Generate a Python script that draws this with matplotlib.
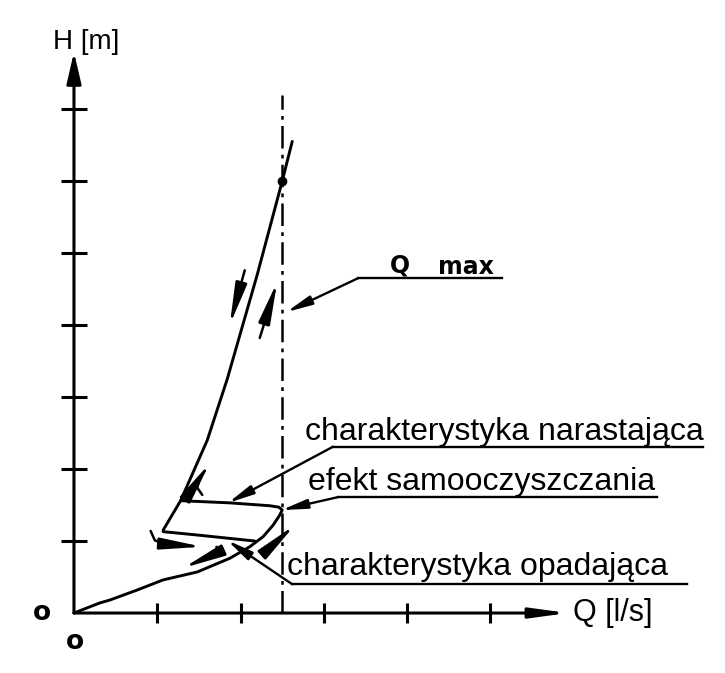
"""Pump characteristic H(Q) with self-cleaning hysteresis loop."""

import matplotlib

matplotlib.use("Agg")
import matplotlib.pyplot as plt
import numpy as np

# axis ticks (in tick units)
q_ticks = [1, 2, 3, 4, 5]
h_ticks = [1, 2, 3, 4, 5, 6, 7]
q_max = 2.5

# rising branch: from origin up the lower curve, then back along the upper line
rise_q = [0.0, 0.31, 0.43, 0.76, 1.07, 1.48, 1.87, 2.11, 2.27, 2.39, 2.47, 2.50, 2.46, 2.35, 1.87, 1.28]
rise_h = [0.0, 0.14, 0.18, 0.32, 0.46, 0.57, 0.76, 0.92, 1.06, 1.22, 1.36, 1.43, 1.47, 1.49, 1.53, 1.56]

# steep branch up to Q max and beyond
steep_q = [1.07, 1.28, 1.60, 1.84, 2.20, 2.50, 2.62]
steep_h = [1.15, 1.56, 2.40, 3.25, 4.70, 6.00, 6.55]

# falling branch: lower line rejoining the curve
fall_q = [1.07, 1.51, 2.17]
fall_h = [1.13, 1.08, 1.00]

qmax_point = (2.5, 6.0)

# direction arrows drawn along the loop (polyline, last point is the tip)
flow_arrows = [
    ([2.05, 1.87], [4.76, 4.00]),
    ([2.23, 2.44], [3.82, 4.60]),
    ([1.54, 1.48, 1.51, 1.63], [1.64, 1.74, 1.875, 2.08]),
    ([0.92, 0.97, 1.07, 1.54], [1.14, 1.01, 0.96, 0.92]),
    ([1.71, 1.75, 1.67, 1.31], [0.92, 0.875, 0.81, 0.625]),
    ([2.32, 2.65], [0.875, 1.22]),
]

# labels with leader lines
labels = ["Q max", "charakterystyka narastająca", "efekt samooczyszczania", "charakterystyka opadająca"]
leader_q = [[5.14, 3.41, 2.55], [7.55, 3.11, 1.85], [7.00, 3.17, 2.49], [7.36, 2.62, 1.84]]
leader_h = [[4.65, 4.65, 4.18], [2.31, 2.31, 1.53], [1.61, 1.61, 1.43], [0.40, 0.40, 1.01]]
label_pos = [None, (2.77, 2.40), (2.81, 1.71), (2.56, 0.53)]

LW = 2.1
INK = "black"

fig = plt.figure(figsize=(7.25, 6.73), dpi=100)
ax = fig.add_axes([0, 0, 1, 1])
ax.set_xlim(-0.888, 7.815)
ax.set_ylim(-0.833, 8.514)
ax.axis("off")

# axes with arrow heads
ax.annotate("", xy=(0, 7.79), xytext=(0, 0),
            arrowprops=dict(arrowstyle="-|>,head_length=0.95,head_width=0.22",
                            lw=2.2, color=INK, shrinkA=0, shrinkB=0, mutation_scale=20))
ax.annotate("", xy=(5.93, 0), xytext=(0, 0),
            arrowprops=dict(arrowstyle="-|>,head_length=1.1,head_width=0.15",
                            lw=2.2, color=INK, shrinkA=0, shrinkB=0, mutation_scale=20))
ax.plot(np.zeros(len(h_ticks)), h_ticks, ls="none", marker="_", ms=19, mew=2.2, color=INK)
ax.plot(q_ticks, np.zeros(len(q_ticks)), ls="none", marker="|", ms=14, mew=2.2, color=INK)

ax.text(-0.25, 7.93, "H [m]", fontsize=20, family="Liberation Sans", ha="left", va="center")
ax.text(5.99, 0.0, "Q [l/s]", fontsize=22, family="Liberation Sans", ha="left", va="center")
ax.text(-0.38, 0.0, "o", fontsize=19, fontweight="bold", ha="center", va="center")
ax.text(0.01, -0.40, "o", fontsize=19, fontweight="bold", ha="center", va="center")

# Q max reference line
ax.plot([q_max, q_max], [0, 7.2], color=INK, lw=1.8, dashes=(9, 2.5, 1.5, 2.5))

# characteristic curves
ax.plot(rise_q, rise_h, color=INK, lw=LW, solid_capstyle="round", solid_joinstyle="round")
ax.plot(steep_q, steep_h, color=INK, lw=LW, solid_capstyle="round")
ax.plot(fall_q, fall_h, color=INK, lw=LW, solid_capstyle="round")
ax.plot(*qmax_point, marker="o", ms=6, color=INK)

for xs, ys in flow_arrows:
    if len(xs) > 2:
        ax.plot(xs[:-1], ys[:-1], color=INK, lw=1.8, solid_capstyle="round")
    ax.annotate("", xy=(xs[-1], ys[-1]), xytext=(xs[-2], ys[-2]),
                arrowprops=dict(arrowstyle="-|>,head_length=1.8,head_width=0.25",
                                lw=1.8, color=INK, shrinkA=0, shrinkB=0, mutation_scale=14))

for text, xs, ys, pos in zip(labels, leader_q, leader_h, label_pos):
    ax.plot(xs[:-1], ys[:-1], color=INK, lw=1.7)
    ax.annotate("", xy=(xs[-1], ys[-1]), xytext=(xs[-2], ys[-2]),
                arrowprops=dict(arrowstyle="-|>,head_length=1.1,head_width=0.2",
                                lw=1.7, color=INK, shrinkA=0, shrinkB=0, mutation_scale=14))
    if pos is not None:
        ax.text(pos[0], pos[1], text, fontsize=23, family="Liberation Sans",
                ha="left", va="baseline")

# Q max label is lettered in a different style
ax.text(3.79, 4.82, "Q", fontsize=17, fontweight="bold", ha="left", va="center")
ax.text(4.70, 4.80, "max", fontsize=17, fontweight="bold", ha="center", va="center")

fig.savefig("out.png", dpi=100)
